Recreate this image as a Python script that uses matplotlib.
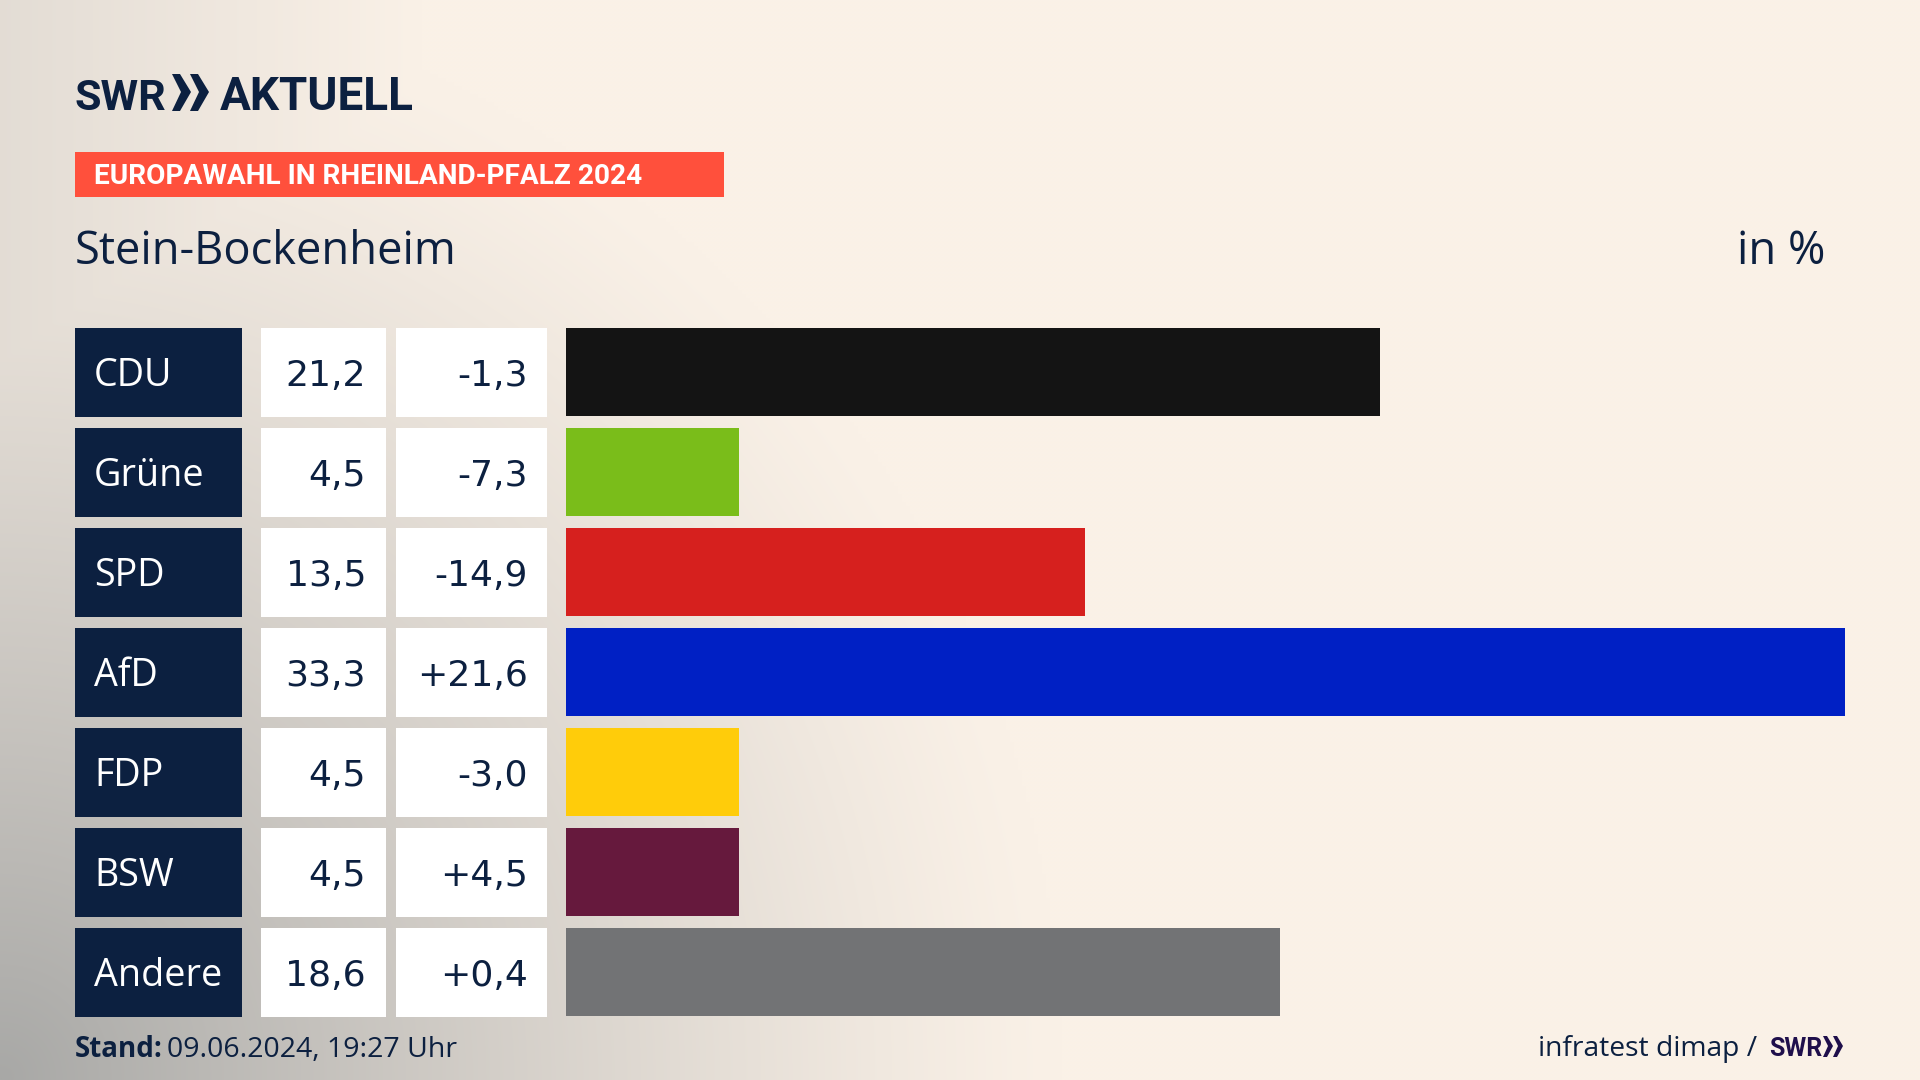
import numpy as np
import matplotlib.pyplot as plt
from matplotlib.patches import Rectangle, Polygon

# data
parties = ['CDU', 'Grüne', 'SPD', 'AfD', 'FDP', 'BSW', 'Andere']
values = [21.2, 4.5, 13.5, 33.3, 4.5, 4.5, 18.6]
value_labels = ['21,2', '4,5', '13,5', '33,3', '4,5', '4,5', '18,6']
diff_labels = ['-1,3', '-7,3', '-14,9', '+21,6', '-3,0', '+4,5', '+0,4']
bar_colors = ['#141414', '#7abd1a', '#d6201e', '#0020c4', '#ffcc0a', '#66193d', '#727375']

navy = '#0c2040'
plt.rcParams['font.family'] = ['Open Sans', 'DejaVu Sans']
narrow = ['Roboto', 'DejaVu Sans']

W, H = 1920, 1080
fig = plt.figure(figsize=(W / 100, H / 100), dpi=100)

# page in pixel coordinates
page = fig.add_axes([0, 0, 1, 1])
page.set_xlim(0, W)
page.set_ylim(H, 0)
page.axis('off')

# background: cream with a grey shade from the lower left corner
yy, xx = np.mgrid[0:H:270j, 0:W:480j]
cream = np.array([250, 241, 231]) / 255
grey = np.array([168, 168, 166]) / 255
d = np.sqrt((xx / 1060) ** 2 + ((H - yy) / 1100) ** 2)
shade = np.clip(1 - d, 0, 1) ** 1.2
d2 = xx / 420
shade = np.maximum(shade, 0.28 * np.clip(1 - d2, 0, 1))
bg = cream + (grey - cream) * shade[..., None]
page.imshow(bg, extent=[0, W, H, 0], aspect='auto', zorder=0, interpolation='bilinear')

# logo
page.text(75, 110, 'SWR', fontsize=31, fontweight='bold', family=narrow, color=navy, va='baseline')
for x0 in (172, 190):
    page.add_patch(Polygon([(x0, 74), (x0 + 8, 74), (x0 + 19, 92), (x0 + 8, 111), (x0, 111), (x0 + 9, 92)],
                           closed=True, fc=navy, ec='none', zorder=3))
page.text(220, 110, 'AKTUELL', fontsize=33, fontweight='bold', family=narrow, color=navy, va='baseline')

# banner
page.add_patch(Rectangle((75, 152), 649, 45, fc='#ff503c', ec='none', zorder=2))
page.text(94, 184, 'EUROPAWAHL IN RHEINLAND-PFALZ 2024', fontsize=20.2, fontweight='bold',
          family=narrow, color='white', va='baseline', zorder=3)

# heading
page.text(75, 264, 'Stein-Bockenheim', fontsize=32.6, color=navy, va='baseline')
page.text(1825, 264, 'in %', fontsize=32.6, color=navy, va='baseline', ha='right')

# table cells left of the bars
row_top = 328
row_step = 100
row_h = 88.5
for i, (party, val, diff) in enumerate(zip(parties, value_labels, diff_labels)):
    top = row_top + i * row_step
    base = top + row_h / 2 + 14
    page.add_patch(Rectangle((75, top), 167, row_h, fc=navy, ec='none', zorder=2))
    page.add_patch(Rectangle((261, top), 125, row_h, fc='white', ec='none', zorder=2))
    page.add_patch(Rectangle((396, top), 151, row_h, fc='white', ec='none', zorder=2))
    page.text(94, base, party, fontsize=27.2, color='white', va='baseline', zorder=3)
    page.text(366, base, val, fontsize=26, family='DejaVu Sans', color=navy, va='baseline', ha='right', zorder=3)
    page.text(528, base, diff, fontsize=26, family='DejaVu Sans', color=navy, va='baseline', ha='right', zorder=3)

# bars
bar_left, bar_right = 566, 1845
ax = fig.add_axes([bar_left / W, 1 - 1022 / H, (bar_right - bar_left) / W, 700 / H])
ax.patch.set_alpha(0)
ax.barh(np.arange(len(parties)), values, height=0.885, color=bar_colors)
ax.set_xlim(0, max(values))
ax.set_ylim(len(parties) - 0.5, -0.5)
ax.axis('off')

# footer
page.text(75, 1057, 'Stand:', fontsize=20, fontweight='bold', color=navy, va='baseline')
page.text(167, 1057, '09.06.2024, 19:27 Uhr', fontsize=20.5, color=navy, va='baseline')
page.text(1757, 1056, 'infratest dimap /', fontsize=20.3, color=navy, va='baseline', ha='right')
logo2 = '#1f0f4b'
page.text(1769, 1056, 'SWR', fontsize=18, fontweight='bold', family=narrow, color=logo2, va='baseline')
for x0 in (1823, 1833):
    page.add_patch(Polygon([(x0, 1036), (x0 + 4, 1036), (x0 + 10, 1046), (x0 + 4, 1057), (x0, 1057), (x0 + 5, 1046)],
                           closed=True, fc=logo2, ec='none', zorder=3))

fig.savefig('out.png', dpi=100)
